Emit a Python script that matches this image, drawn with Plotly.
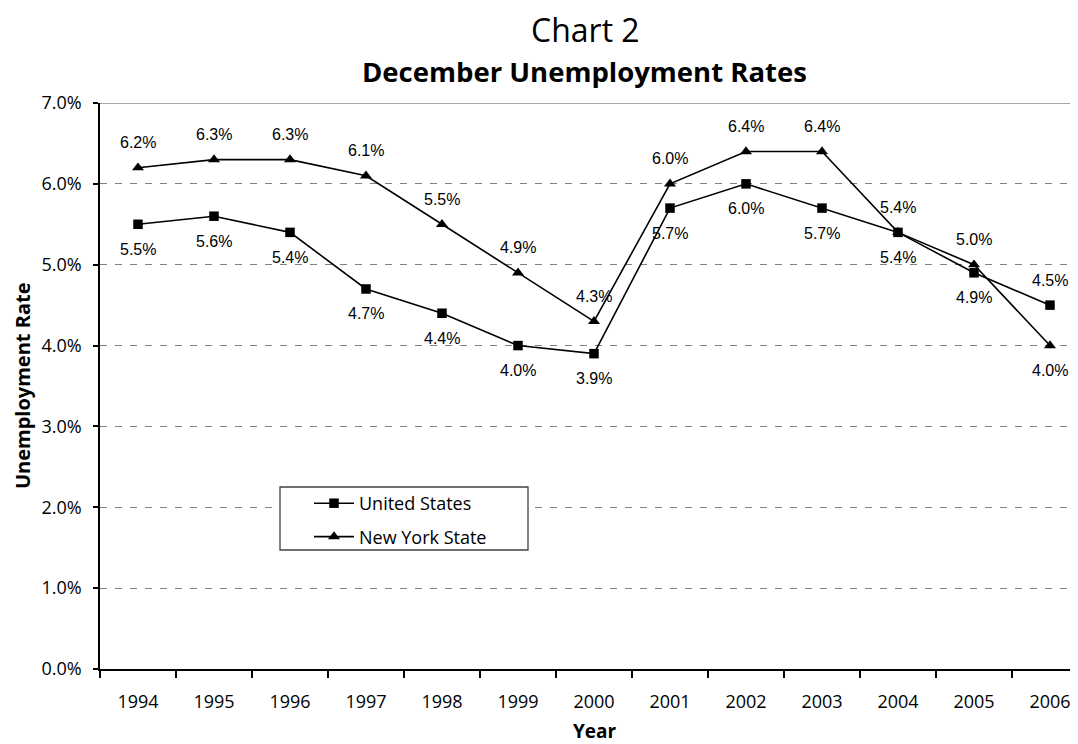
import plotly.graph_objects as go

years = [1994, 1995, 1996, 1997, 1998, 1999, 2000, 2001, 2002, 2003, 2004, 2005, 2006]
us_rate = [5.5, 5.6, 5.4, 4.7, 4.4, 4.0, 3.9, 5.7, 6.0, 5.7, 5.4, 4.9, 4.5]
ny_rate = [6.2, 6.3, 6.3, 6.1, 5.5, 4.9, 4.3, 6.0, 6.4, 6.4, 5.4, 5.0, 4.0]
# +1 = label above the point, -1 = label below the point
us_label_side = [-1] * 12 + [1]
ny_label_side = [1] * 12 + [-1]

# page has an 8px body margin; work in window pixels and convert
OFF = 8
WIN_W, WIN_H = 1078, 744
W, H = WIN_W - OFF, WIN_H - OFF
PL, PT, PB = 100, 103, 669          # plot area in window pixels
L, R, T, B = PL - OFF, 0, PT - OFF, WIN_H - PB
PH = PB - PT
cat_w = (1012 - 100) / 12.0
x_right = 1993.5 + (WIN_W - PL) / cat_w
font_main = "Open Sans"
font_lbl = "Liberation Sans"

fig = go.Figure()
fig.add_trace(go.Scatter(
    x=years, y=us_rate, name="United States", mode="lines+markers", legendgroup="us",
    line=dict(color="black", width=1.6),
    marker=dict(symbol="square", size=9.5, color="black"),
))
fig.add_trace(go.Scatter(
    x=years, y=ny_rate, name="New York State", mode="lines+markers", legendgroup="ny",
    line=dict(color="black", width=1.6),
    marker=dict(symbol="triangle-up", size=10.5, color="black"),
))

annotations = []
for vals, sides in ((us_rate, us_label_side), (ny_rate, ny_label_side)):
    for yr, v, s in zip(years, vals, sides):
        annotations.append(dict(x=yr, y=v, xref="x", yref="y", text=f"{v:.1f}%",
                                showarrow=False, yshift=25 * s, xanchor="center", yanchor="middle",
                                font=dict(family=font_lbl, size=16, color="black")))

def py(pix):
    return (PB - pix) / PH

def px(pix):
    return (pix - PL) / (WIN_W - PL)

annotations += [
    dict(text="Chart 2", xref="paper", yref="paper", x=px(585), y=py(30),
         showarrow=False, font=dict(family=font_main, size=32), xanchor="center", yanchor="middle"),
    dict(text="<b>December Unemployment Rates</b>", xref="paper", yref="paper",
         x=px(584), y=py(71),
         showarrow=False, font=dict(family=font_main, size=27.5), xanchor="center", yanchor="middle"),
    dict(text="<b>Unemployment Rate</b>", xref="paper", yref="paper",
         x=px(22), y=py(386), textangle=-90,
         showarrow=False, font=dict(family=font_main, size=20), xanchor="center", yanchor="middle"),
    dict(text="<b>Year</b>", xref="paper", yref="paper",
         x=px(595), y=py(731),
         showarrow=False, font=dict(family=font_main, size=19), xanchor="center", yanchor="middle"),
]

fig.update_layout(
    width=W, height=H,
    margin=dict(l=L, r=R, t=T, b=B, autoexpand=False),
    paper_bgcolor="white", plot_bgcolor="white",
    font=dict(family=font_main, size=18, color="black"),
    showlegend=True,
    legend=dict(x=px(309), y=py(485), xanchor="left", yanchor="top",
                bgcolor="rgba(0,0,0,0)", borderwidth=0, traceorder="grouped",
                font=dict(family=font_main, size=18, color="black"),
                itemwidth=40, tracegroupgap=7),
    xaxis=dict(range=[1993.5, x_right], tickvals=years, ticktext=[str(y) for y in years],
               showgrid=False, ticks="", showline=True, linecolor="black", linewidth=1.5,
               zeroline=False, ticklabelstandoff=16, automargin=False,
               tickfont=dict(family=font_main, size=18),
               minor=dict(ticks="outside", tick0=1993.5, dtick=1, ticklen=7, tickcolor="black",
                          tickwidth=1.5, showgrid=False)),
    yaxis=dict(range=[0, 7], tickvals=[0, 1, 2, 3, 4, 5, 6, 7],
               ticktext=["0.0%", "1.0%", "2.0%", "3.0%", "4.0%", "5.0%", "6.0%", "7.0%"],
               showgrid=True, gridcolor="#808080", griddash="7px,8px", gridwidth=1.3,
               ticks="outside", ticklen=5, tickcolor="black", tickwidth=1.5,
               showline=True, linecolor="black", linewidth=1.5, zeroline=False,
               ticklabelstandoff=8, automargin=False, tickfont=dict(family=font_main, size=18)),
    shapes=[
        dict(type="line", xref="paper", yref="y", x0=0, x1=1, y0=7, y1=7,
             line=dict(color="#8a8a8a", width=1.5), layer="above"),
        dict(type="rect", xref="paper", yref="paper",
             x0=px(280), x1=px(528), y0=py(550), y1=py(487),
             line=dict(color="#404040", width=1.3), fillcolor="white", layer="above"),
    ],
    annotations=annotations,
)

fig.write_html("out.html")
